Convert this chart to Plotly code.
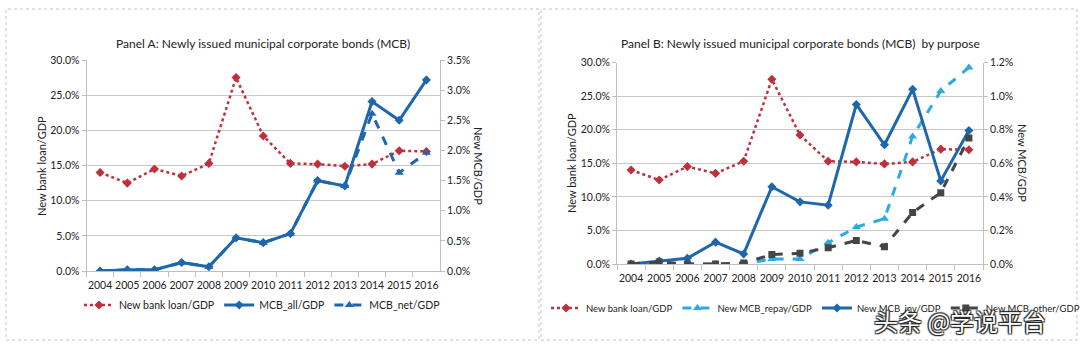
import plotly.graph_objects as go

W, H = 1080, 345

years = [str(y) for y in range(2004, 2017)]

# Panel A (percent of GDP)
bank_loan = [14.0, 12.5, 14.5, 13.5, 15.3, 27.5, 19.2, 15.3, 15.2, 14.9, 15.2, 17.1, 17.0]
mcb_all = [0.0, 0.02, 0.02, 0.14, 0.07, 0.55, 0.47, 0.62, 1.50, 1.41, 2.81, 2.50, 3.17]
mcb_net = [0.0, 0.02, 0.02, 0.14, 0.07, 0.55, 0.47, 0.62, 1.50, 1.41, 2.61, 1.63, 1.96]

# Panel B (percent of GDP)
mcb_repay = [0.0, 0.0, 0.0, 0.0, 0.0, 0.03, 0.03, 0.127, 0.22, 0.27, 0.76, 1.03, 1.17]
mcb_invest = [0.0, 0.018, 0.034, 0.13, 0.06, 0.46, 0.37, 0.35, 0.95, 0.71, 1.04, 0.495, 0.795]
mcb_other = [0.0, 0.012, 0.0, 0.0, 0.006, 0.056, 0.064, 0.097, 0.14, 0.103, 0.306, 0.425, 0.75]

title_a = "Panel A: Newly issued municipal corporate bonds (MCB)"
title_b = "Panel B: Newly issued municipal corporate bonds (MCB)  by purpose"

RED = "#C0303C"
BLUE = "#1F67AD"
LBLUE = "#2DAAE1"
GRAY = "#454545"
GRID = "#C8C8C8"
AX = "#BFBFBF"
TXT = "#222222"
FONT = "Lato"


def px(x):
    return x / W


def py(y):
    return 1 - y / H


fig = go.Figure()

# ---- Panel A traces
fig.add_trace(go.Scatter(x=years, y=bank_loan, name="New bank loan/GDP", xaxis="x", yaxis="y",
                         mode="lines+markers", line=dict(color=RED, width=2.5, dash="dot"),
                         marker=dict(symbol="diamond", size=7, color=RED), legend="legend"))
fig.add_trace(go.Scatter(x=years, y=mcb_all, name="MCB_all/GDP", xaxis="x", yaxis="y2",
                         mode="lines+markers", line=dict(color=BLUE, width=3),
                         marker=dict(symbol="diamond", size=7, color=BLUE), legend="legend"))
fig.add_trace(go.Scatter(x=years, y=mcb_net, name="MCB_net/GDP", xaxis="x", yaxis="y2",
                         mode="lines+markers", line=dict(color=BLUE, width=3, dash="dash"),
                         marker=dict(symbol="triangle-up", size=8, color=BLUE), legend="legend"))

# ---- Panel B traces
fig.add_trace(go.Scatter(x=years, y=bank_loan, name="New bank loan/GDP", xaxis="x2", yaxis="y3",
                         mode="lines+markers", line=dict(color=RED, width=2.5, dash="dot"),
                         marker=dict(symbol="diamond", size=7, color=RED), legend="legend2"))
fig.add_trace(go.Scatter(x=years, y=mcb_repay, name="New MCB_repay/GDP", xaxis="x2", yaxis="y4",
                         mode="lines+markers", line=dict(color=LBLUE, width=3, dash="dash"),
                         marker=dict(symbol="triangle-up", size=8, color=LBLUE), legend="legend2"))
fig.add_trace(go.Scatter(x=years, y=mcb_invest, name="New MCB_inv/GDP", xaxis="x2", yaxis="y4",
                         mode="lines+markers", line=dict(color=BLUE, width=3),
                         marker=dict(symbol="diamond", size=7, color=BLUE), legend="legend2"))
fig.add_trace(go.Scatter(x=years, y=mcb_other, name="New MCB_other/GDP", xaxis="x2", yaxis="y4",
                         mode="lines+markers", line=dict(color=GRAY, width=3, dash="dash"),
                         marker=dict(symbol="square", size=7, color=GRAY), legend="legend2"))

tickfont = dict(family=FONT, size=10.5, color=TXT)

xcommon = dict(type="category", range=[-0.5, 12.5], tickson="boundaries", ticks="outside",
               ticklen=5, tickcolor=AX, showline=True, linecolor=AX, linewidth=1,
               showgrid=False, zeroline=False, tickfont=tickfont, tickangle=0,
               ticklabelstandoff=4, automargin=False, fixedrange=True)
ycommon = dict(ticks="outside", ticklen=4, tickcolor=AX, showline=True, linecolor=AX,
               linewidth=1, zeroline=False, tickfont=tickfont, tickformat=".1f",
               ticksuffix="%", automargin=False, fixedrange=True)

fig.update_layout(
    width=W, height=H, autosize=False,
    margin=dict(l=0, r=0, t=0, b=0, autoexpand=False),
    paper_bgcolor="white", plot_bgcolor="white",
    font=dict(family=FONT, size=11, color=TXT),
    xaxis=dict(domain=[px(86.5), px(440)], anchor="y", **xcommon),
    yaxis=dict(domain=[py(271), py(60)], anchor="x", range=[0, 30], dtick=5,
               showgrid=True, gridcolor=GRID, gridwidth=1, **ycommon),
    yaxis2=dict(overlaying="y", side="right", anchor="x", range=[0, 3.5], dtick=0.5,
                showgrid=False, **ycommon),
    xaxis2=dict(domain=[px(617), px(983)], anchor="y3", **xcommon),
    yaxis3=dict(domain=[py(264), py(62.5)], anchor="x2", range=[0, 30], dtick=5,
                showgrid=True, gridcolor=GRID, gridwidth=1, **ycommon),
    yaxis4=dict(overlaying="y3", side="right", anchor="x2", range=[0, 1.2], dtick=0.2,
                showgrid=False, **ycommon),
    legend=dict(orientation="h", x=px(262), y=py(305), xanchor="center", yanchor="middle",
                font=dict(family=FONT, size=10.5, color=TXT), itemwidth=30,
                bgcolor="rgba(0,0,0,0)", tracegroupgap=0),
    legend2=dict(orientation="h", x=px(546), y=py(308), xanchor="left", yanchor="middle",
                 font=dict(family=FONT, size=9.5, color=TXT), itemwidth=30,
                 bgcolor="rgba(0,0,0,0)", tracegroupgap=0),
    showlegend=True,
)

annotations = [
    dict(text=title_a, x=px(263), y=py(43), showarrow=False, font=dict(family=FONT, size=12, color=TXT)),
    dict(text=title_b, x=px(800), y=py(43), showarrow=False, font=dict(family=FONT, size=12, color=TXT)),
    dict(text="New bank loan/GDP", x=px(41), y=py(166), textangle=-90, showarrow=False,
         font=dict(family=FONT, size=11, color=TXT)),
    dict(text="New MCB/GDP", x=px(479), y=py(166), textangle=90, showarrow=False,
         font=dict(family=FONT, size=11, color=TXT)),
    dict(text="New bank loan/GDP", x=px(571), y=py(163), textangle=-90, showarrow=False,
         font=dict(family=FONT, size=11, color=TXT)),
    dict(text="New MCB/GDP", x=px(1023), y=py(163), textangle=90, showarrow=False,
         font=dict(family=FONT, size=11, color=TXT)),
    dict(text="头条 @学说平台", x=px(960), y=py(320), showarrow=False,
         font=dict(family="Noto Sans CJK SC", size=24, color="white",
                   shadow="1px 1px 1px #222, -1px -1px 1px #222, 1px -1px 1px #222, -1px 1px 1px #222")),
]
for a in annotations:
    a.update(xref="paper", yref="paper", xanchor="center", yanchor="middle")
fig.update_layout(annotations=annotations)

fig.update_layout(shapes=[
    dict(type="rect", xref="paper", yref="paper", x0=px(6), x1=px(539), y0=py(340), y1=py(9),
         line=dict(color="#C4C4C4", width=1, dash="dot"), layer="below"),
    dict(type="rect", xref="paper", yref="paper", x0=px(541), x1=px(1077), y0=py(340), y1=py(9),
         line=dict(color="#C4C4C4", width=1, dash="dot"), layer="below"),
])

fig.write_html("out.html")
